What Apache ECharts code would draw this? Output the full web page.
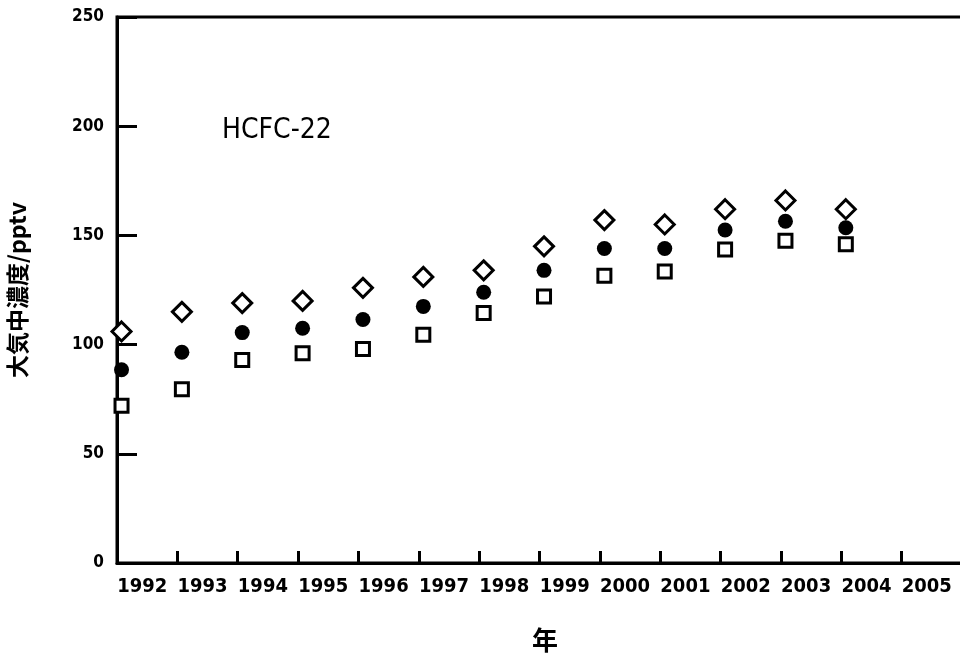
<!DOCTYPE html>
<html><head><meta charset="utf-8">
<script src="https://cdn.jsdelivr.net/npm/echarts@6/dist/echarts.min.js"></script>
<style>html,body{margin:0;padding:0;background:#fff}#c{width:960px;height:655px}</style>
</head><body><div id="c"></div>
<script>
var years = [1992,1993,1994,1995,1996,1997,1998,1999,2000,2001,2002,2003,2004];
var yearLabels = ['1992','1993','1994','1995','1996','1997','1998','1999','2000','2001','2002','2003','2004','2005'];
var diamondVals = [106,115,119,120,126,131,134,145,157,155,162,166,162];
var circleVals  = [88.5,96.5,105.5,107.5,111.5,117.5,124,134,144,144,152.5,156.5,153.5];
var squareVals  = [72,79.5,93,96,98,104.5,114.5,122,131.5,133.5,143.5,147.5,146];
var yTicks = [0,50,100,150,200,250];

function pairs(vals){ return years.map(function(y,i){ return [y, vals[i]]; }); }

var narrow = '"DejaVu Sans Condensed", "Liberation Sans Narrow", sans-serif';
var chart = echarts.init(document.getElementById('c'));
chart.setOption({
  animation:false,
  backgroundColor:'#fff',
  grid:{left:117,top:17,width:845,bottom:92,outerBoundsMode:'none',containLabel:false,
        show:true,borderColor:'#000',borderWidth:3,backgroundColor:'transparent'},
  graphic:[{type:'text',left:222,top:117,style:{text:'HCFC-22',font:'500 28px "DejaVu Sans Condensed", sans-serif',fill:'#000'}}],
  xAxis:[{
    type:'category', data:yearLabels, boundaryGap:true,
    axisLine:{lineStyle:{color:'#000',width:3}},
    axisTick:{show:true,inside:true,length:12,interval:0,lineStyle:{color:'#000',width:3}},
    axisLabel:{interval:0,color:'#000',fontFamily:narrow,fontWeight:'bold',fontSize:20,margin:14,padding:[0,10,0,0]},
    name:'年', nameLocation:'middle', nameGap:64,
    nameTextStyle:{color:'#000',fontFamily:'"Noto Sans CJK JP"',fontWeight:'bold',fontSize:26,padding:[0,0,0,11]},
    splitLine:{show:false}, z:10
  },{
    type:'value', min:1991.925, max:2005.925, show:false, splitLine:{show:false}
  }],
  yAxis:{
    type:'value', min:0, max:250, interval:50,
    axisLine:{show:true,lineStyle:{color:'#000',width:3}},
    axisTick:{show:true,inside:true,length:20,lineStyle:{color:'#000',width:3}},
    axisLabel:{color:'#000',fontFamily:narrow,fontWeight:'bold',fontSize:17,margin:13,
      formatter:function(v){ return yTicks.indexOf(v)>=0 ? String(v) : ''; }},
    splitLine:{show:false},
    name:'大気中濃度/pptv', nameLocation:'middle', nameGap:88, nameRotate:90,
    nameTextStyle:{color:'#000',fontFamily:'"Noto Sans CJK JP"',fontWeight:'bold',fontSize:23}
  },
  series:[
    {type:'scatter',xAxisIndex:1,data:pairs(diamondVals),symbol:'diamond',symbolSize:19,
     itemStyle:{color:'#fff',borderColor:'#000',borderWidth:3,opacity:1},z:5},
    {type:'scatter',xAxisIndex:1,data:pairs(circleVals),symbol:'circle',symbolSize:15,
     itemStyle:{color:'#000',opacity:1},z:5},
    {type:'scatter',xAxisIndex:1,data:pairs(squareVals),symbol:'rect',symbolSize:13,
     itemStyle:{color:'#fff',borderColor:'#000',borderWidth:3,opacity:1},z:5}
  ]
});
</script></body></html>
